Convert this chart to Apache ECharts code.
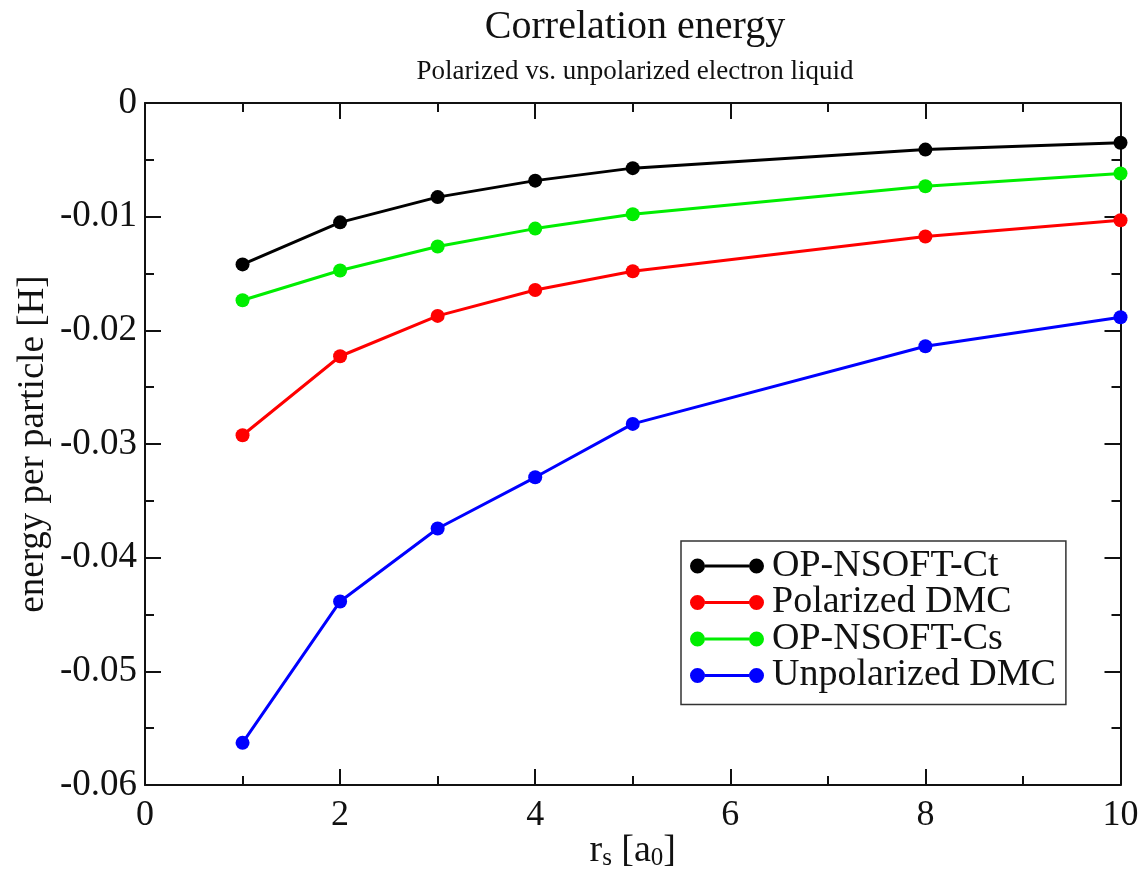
<!DOCTYPE html>
<html>
<head>
<meta charset="utf-8">
<script src="https://cdn.jsdelivr.net/npm/echarts@6/dist/echarts.min.js"></script>
<style>
  html, body { margin: 0; padding: 0; background: #fff; }
  #chart { width: 1142px; height: 873px; }
</style>
</head>
<body>
<div id="chart"></div>
<script>
// Wigner-Seitz radius r_s (bohr) at which each energy was computed
const rs = [1, 2, 3, 4, 5, 8, 10];

// Correlation energy per particle (hartree)
const opNsoftCt      = [-0.01420, -0.01050, -0.00828, -0.00683, -0.00573, -0.00410, -0.00350];
const polarizedDMC   = [-0.02923, -0.02228, -0.01873, -0.01645, -0.01480, -0.01175, -0.01032];
const opNsoftCs      = [-0.01735, -0.01474, -0.01263, -0.01105, -0.00979, -0.00733, -0.00620];
const unpolarizedDMC = [-0.05629, -0.04385, -0.03743, -0.03293, -0.02823, -0.02140, -0.01885];

const seriesNames  = ['OP-NSOFT-Ct', 'Polarized DMC', 'OP-NSOFT-Cs', 'Unpolarized DMC'];
const seriesColors = ['#000000', '#ff0000', '#00ee00', '#0000ff'];
const seriesData   = [opNsoftCt, polarizedDMC, opNsoftCs, unpolarizedDMC];

const xTicks = [0, 2, 4, 6, 8, 10];
const yTicks = [0, -0.01, -0.02, -0.03, -0.04, -0.05, -0.06];

const FONT = 'Liberation Serif';
const INK = '#111';

// legend glyph: two dots joined by a short bar
const legendIcon = 'path://M0,8a7.5,7.5 0 1,0 15,0a7.5,7.5 0 1,0 -15,0Z' +
  'M59,8a7.5,7.5 0 1,0 15,0a7.5,7.5 0 1,0 -15,0Z' +
  'M14.9,6.5H59.1V9.5H14.9Z';

const chart = echarts.init(document.getElementById('chart'), null, { renderer: 'canvas' });

const frameAxisLine = { show: true, onZero: false, lineStyle: { color: INK, width: 2 } };
const majorTick = { inside: true, length: 16, lineStyle: { color: INK, width: 2 } };
const minorTick = { show: true, splitNumber: 2, length: 9, lineStyle: { color: INK, width: 2 } };

const option = {
  animation: false,
  backgroundColor: '#ffffff',
  textStyle: { fontFamily: FONT },
  title: {
    text: 'Correlation energy',
    subtext: 'Polarized vs. unpolarized electron liquid',
    left: 630,
    textAlign: 'center',
    top: 2,
    itemGap: 11,
    textStyle: { fontFamily: FONT, fontSize: 40, fontWeight: 'normal', color: INK },
    subtextStyle: { fontFamily: FONT, fontSize: 27, color: INK }
  },
  legend: {
    orient: 'vertical',
    left: 681,
    top: 541,
    padding: [6, 10, 10, 9],
    itemGap: -1.5,
    itemWidth: 74,
    itemHeight: 16,
    icon: legendIcon,
    backgroundColor: '#ffffff',
    borderColor: '#333',
    borderWidth: 1.5,
    borderRadius: 0,
    selectedMode: false,
    textStyle: { fontFamily: FONT, fontSize: 38, color: INK, padding: [0, 0, 0, 3] },
    data: seriesNames.map((n, i) => ({ name: n, itemStyle: { color: seriesColors[i] } }))
  },
  grid: { left: 145, top: 103, right: 21.5, bottom: 88, containLabel: false, outerBoundsMode: 'none' },
  xAxis: [
    {
      type: 'value', min: 0, max: 10, interval: 2, position: 'bottom',
      name: '{r|r}{s|s}{r| [a}{s|0}{r|]}',
      nameLocation: 'middle', nameGap: 46, nameMoveOverlap: false,
      nameTextStyle: {
        rich: {
          r: { fontFamily: FONT, fontSize: 38, color: INK },
          s: { fontFamily: FONT, fontSize: 25, color: INK, verticalAlign: 'bottom', padding: [15, 0, 0, 0] }
        }
      },
      axisLine: frameAxisLine,
      axisTick: majorTick,
      minorTick: minorTick,
      splitLine: { show: false },
      axisLabel: {
        margin: 13, fontFamily: FONT, fontSize: 36, color: INK,
        formatter: v => (xTicks.indexOf(v) >= 0 ? String(v) : '')
      }
    },
    {
      type: 'value', min: 0, max: 10, interval: 2, position: 'top',
      axisLine: frameAxisLine,
      axisTick: majorTick,
      minorTick: minorTick,
      splitLine: { show: false },
      axisLabel: { show: false }
    }
  ],
  yAxis: [
    {
      type: 'value', min: -0.06, max: 0, interval: 0.01, position: 'left',
      name: 'energy per particle [H]',
      nameLocation: 'middle', nameGap: 93, nameRotate: 90, nameMoveOverlap: false,
      nameTextStyle: { fontFamily: FONT, fontSize: 37, color: INK },
      axisLine: frameAxisLine,
      axisTick: majorTick,
      minorTick: minorTick,
      splitLine: { show: false },
      axisLabel: {
        margin: 8, fontFamily: FONT, fontSize: 37, color: INK,
        formatter: v => {
          const t = yTicks.find(y => Math.abs(y - v) < 1e-9);
          return t === undefined ? '' : (t === 0 ? '0' : String(t));
        }
      }
    },
    {
      type: 'value', min: -0.06, max: 0, interval: 0.01, position: 'right',
      axisLine: frameAxisLine,
      axisTick: majorTick,
      minorTick: minorTick,
      splitLine: { show: false },
      axisLabel: { show: false }
    }
  ],
  series: seriesNames.map((name, i) => ({
    name: name,
    type: 'line',
    xAxisIndex: 0,
    yAxisIndex: 0,
    data: rs.map((x, k) => [x, seriesData[i][k]]),
    symbol: 'circle',
    symbolSize: 14,
    showAllSymbol: true,
    clip: false,
    itemStyle: { color: seriesColors[i] },
    lineStyle: { color: seriesColors[i], width: 3 },
    emphasis: { disabled: true }
  }))
};

chart.setOption(option);
</script>
</body>
</html>
